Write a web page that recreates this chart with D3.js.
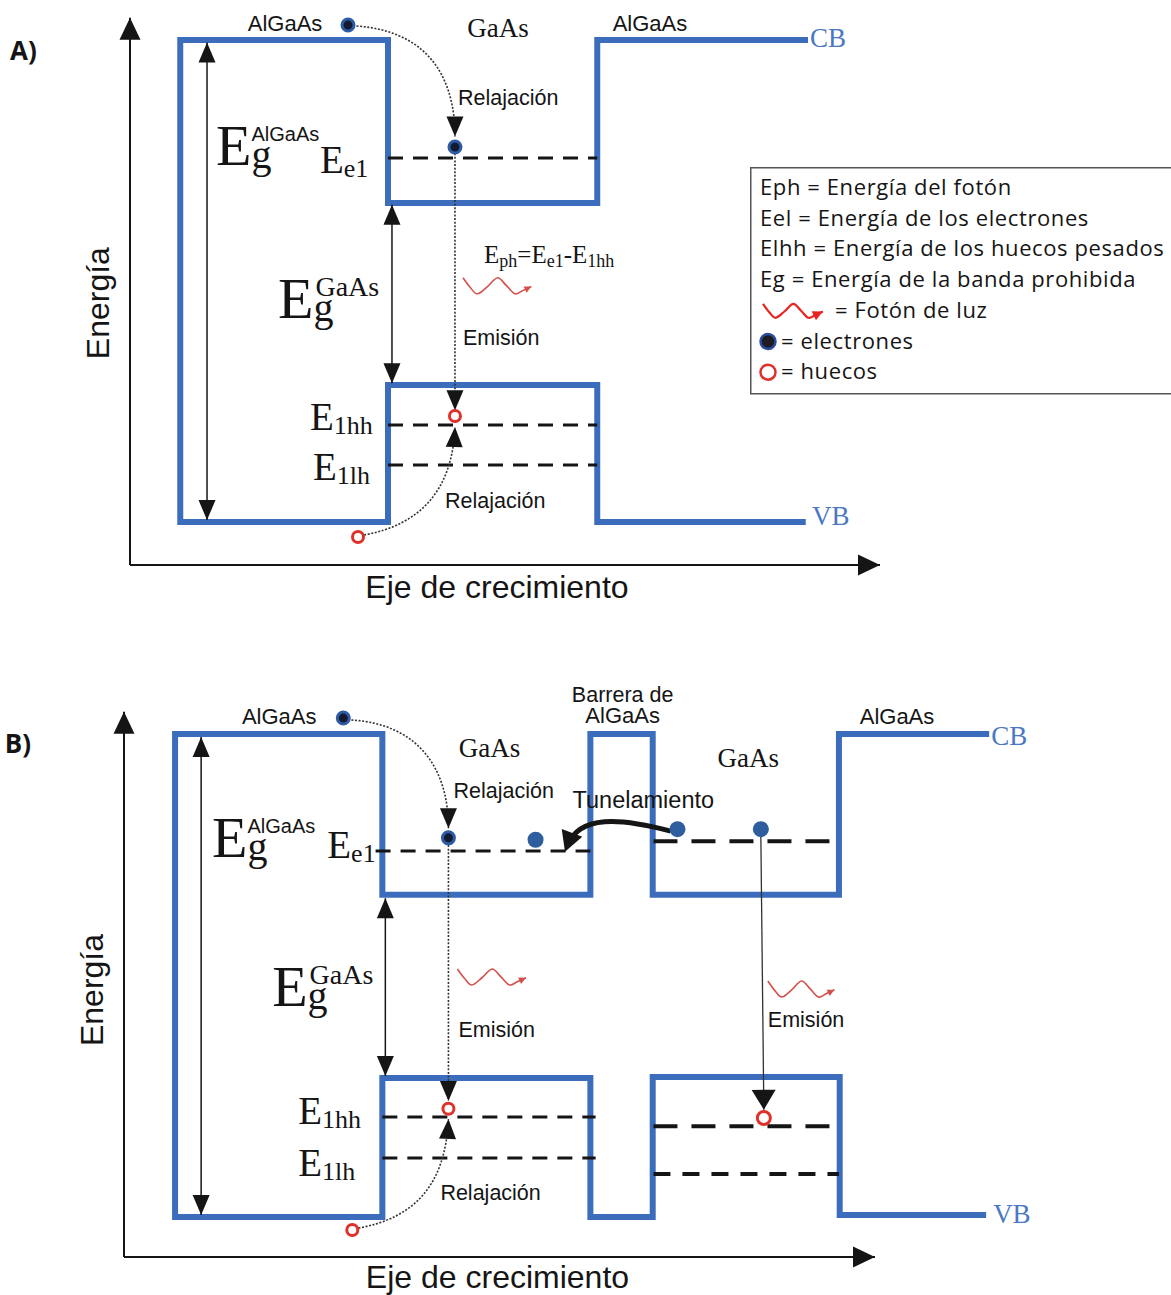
<!DOCTYPE html>
<html>
<head>
<meta charset="utf-8">
<script src="https://cdn.jsdelivr.net/npm/d3@7"></script>
<style>
  body { margin: 0; background: #fff; }
  svg { display: block; }
</style>
</head>
<body>
<div id="chart"></div>
<script>
// positions are in growth-axis units (0..100 along the arrow), energies in units of the AlGaAs gap

// ---- panel A : one GaAs well ----
var axisA = [-0.089, 1.046];
var bandPosA = [90.4, 62.3, 62.3, 34.4, 34.4, 6.7, 6.7, 34.4, 34.4, 62.3, 62.3, 90.1];
var bandEnA  = [1, 1, 0.662, 0.662, 1, 1, 0, 0, 0.284, 0.284, 0, 0];
var gapArrowsA = [[10.27, 0.004, 0.995], [34.93, 0.288, 0.658]];
var levelsA = [[0.755, 34.4, 62.3], [0.201, 34.4, 62.3], [0.118, 34.4, 62.3]];
var electronsA = [[29.07, 1.031], [43.33, 0.778]];
var holesA = [[43.33, 0.220], [30.4, -0.031]];
var relaxA = [
  [[30.2, 1.029], [38.7, 1.02], [43.33, 0.94], [43.33, 0.80]],
  [[31.2, -0.027], [38.7, -0.006], [43.0, 0.066], [43.33, 0.197]]
];
var emissionA = [[43.33, 0.765, 0.232]];
var photonsA = [[44.4, 54.0, 0.49]];
var sansLabelsA = [["AlGaAs", 20.67, 1.019, "middle"], ["AlGaAs", 69.33, 1.019, "middle"],
  ["Relajación", 43.73, 0.865, "start"], ["Emisión", 44.4, 0.367, "start"], ["Relajación", 42.0, 0.029, "start"]];
var serifLabelsA = [["GaAs", 49.07, 1.006]];
var bandNamesA = [["CB", 90.67, 0.985], ["VB", 90.93, -0.006]];
var gapLabelsA = [["AlGaAs", 11.47, 0.741], ["GaAs", 19.73, 0.423]];
var levelLabelsA = [["e1", 25.33, 0.724], ["1hh", 24.0, 0.191], ["1lh", 24.4, 0.087]];
var formulaA = [47.2, 0.537];
var titlesA = ["A)", -16.0, 0.958, -2.8, 0.454, 48.93, -0.158];

// ---- panel B : two wells and a thin barrier ----
var axisB = [-0.083, 1.046];
var bandPosB = [115.2, 95.2, 95.2, 70.4, 70.4, 62.1, 62.1, 34.4, 34.4, 6.8, 6.8, 34.4, 34.4, 62.1, 62.1, 70.4, 70.4, 95.3, 95.3, 114.8];
var bandEnB  = [1, 1, 0.667, 0.667, 1, 1, 0.667, 0.667, 1, 1, 0, 0, 0.288, 0.288, 0, 0, 0.290, 0.290, 0.004, 0.004];
var gapArrowsB = [[10.27, 0.004, 0.994], [34.8, 0.292, 0.660]];
var levelsB = [[0.758, 33.5, 62.1], [0.207, 34.4, 62.8], [0.122, 34.4, 62.8]];
var levels2B = [[0.778, 70.5, 95.2], [0.188, 70.5, 95.2], [0.089, 70.5, 95.2]];
var electronsB = [[29.2, 1.033], [43.2, 0.785]];
var driftElectronsB = [[54.8, 0.781], [73.7, 0.803], [84.8, 0.803]];
var holesB = [[43.2, 0.224], [85.2, 0.205], [30.4, -0.027]];
var relaxB = [
  [[30.27, 1.029], [38.8, 1.021], [43.2, 0.936], [43.2, 0.805]],
  [[31.2, -0.023], [38.7, -0.002], [42.8, 0.066], [43.2, 0.203]]
];
var emissionB = [[43.2, 0.770, 0.240]];
var directEmissionB = [[84.8, 0.789, 85.2, 0.222]];
var tunnelB = [[72.8, 0.799], [66.13, 0.826], [60.6, 0.834], [59.0, 0.768]];
var photonsB = [[44.4, 54.0, 0.497], [85.73, 95.07, 0.472]];
var sansLabelsB = [["AlGaAs", 20.67, 1.021, "middle"], ["Barrera de", 66.4, 1.066, "middle"], ["AlGaAs", 66.4, 1.023, "middle"],
  ["AlGaAs", 102.93, 1.021, "middle"], ["Relajación", 43.87, 0.867, "start"], ["Emisión", 44.53, 0.373, "start"],
  ["Emisión", 85.73, 0.393, "start"], ["Relajación", 42.13, 0.035, "start"]];
var serifLabelsB = [["GaAs", 48.67, 0.952], ["GaAs", 83.13, 0.932]];
var bandNamesB = [["CB", 115.47, 0.977], ["VB", 115.73, -0.012]];
var gapLabelsB = [["AlGaAs", 11.73, 0.745], ["GaAs", 19.73, 0.437]];
var levelLabelsB = [["e1", 27.07, 0.743], ["1hh", 23.2, 0.193], ["1lh", 23.2, 0.085]];
var tunnelLabelB = ["Tunelamiento", 59.73, 0.847];
var titlesB = ["B)", -15.87, 0.961, -2.8, 0.470, 49.73, -0.147];

// ---- legend ----
var legendLines = ["Eph = Energía del fotón", "Eel = Energía de los electrones",
  "Elhh = Energía de los huecos pesados", "Eg = Energía de la banda prohibida"];
var legendKeys = [["photon", "= Fotón de luz"], ["electron", "= electrones"], ["hole", "= huecos"]];

// wave shape of the photon glyph (fraction of length, fraction of amplitude)
var photonShape = [[0, -1], [0.1, 0.2], [0.2, 1], [0.34, 0.1], [0.48, -1], [0.6, -0.05], [0.72, 1], [0.83, 0.6], [0.95, 0.1]];

var SANS = '"Liberation Sans", Arial, sans-serif';
var SERIF = '"Liberation Serif", "Times New Roman", serif';
var LEG = '"Open Sans", sans-serif';
var BLUE = '#3c6dbd';
var INK = '#151515';

var svg = d3.select('#chart').append('svg').attr('width', 1171).attr('height', 1295);
var defs = svg.append('defs');

function marker(id, len, half, color, ref) {
  defs.append('marker').attr('id', id).attr('markerUnits', 'userSpaceOnUse')
    .attr('viewBox', [-len - 2, -half - 2, len + 4, 2 * half + 4].join(' '))
    .attr('markerWidth', len + 4).attr('markerHeight', 2 * half + 4)
    .attr('refX', ref || 0).attr('refY', 0).attr('orient', 'auto-start-reverse')
    .append('path').attr('d', 'M0,0L' + (-len) + ',' + (-half) + 'L' + (-len) + ',' + half + 'Z').attr('fill', color);
}
marker('head', 20, 8.5, INK);
marker('axisHead', 22, 10.5, INK);
marker('bigHead', 20, 12, INK);
marker('tunnelHead', 20, 11, INK, -6);
marker('photonHead', 7, 3.5, '#d4504c');
marker('legPhotonHead', 10, 5, '#e8231f');

function photon(g, x0, x1, cy, amp, color, width, head) {
  var ln = d3.line().x(d => x0 + d[0] * (x1 - x0)).y(d => cy + d[1] * amp).curve(d3.curveCardinal);
  g.append('path').attr('d', ln(photonShape)).attr('fill', 'none').attr('stroke', color)
    .attr('stroke-width', width).attr('marker-end', 'url(#' + head + ')');
}

function bez(pts, x, y) {
  var p = d3.path();
  p.moveTo(x(pts[0][0]), y(pts[0][1]));
  p.bezierCurveTo(x(pts[1][0]), y(pts[1][1]), x(pts[2][0]), y(pts[2][1]), x(pts[3][0]), y(pts[3][1]));
  return p.toString();
}

function txt(g, s, px, py, font, size, anchor) {
  return g.append('text').attr('x', px).attr('y', py).attr('font-family', font)
    .attr('font-size', size).attr('text-anchor', anchor || 'start').attr('fill', INK).text(s);
}

function drawPanel(p) {
  var x = p.x, y = p.y, g = svg.append('g');
  var ln = d3.line().x(d => x(d[0])).y(d => y(d[1]));

  // axes
  g.append('path').attr('d', ln([[0, p.axis[0]], [0, p.axis[1]]])).attr('stroke', INK).attr('stroke-width', 2)
    .attr('marker-end', 'url(#axisHead)');
  g.append('path').attr('d', ln([[0, p.axis[0]], [100, p.axis[0]]])).attr('stroke', INK).attr('stroke-width', 2)
    .attr('marker-end', 'url(#axisHead)');

  // band edges
  g.append('path').attr('d', ln(d3.zip(p.bandPos, p.bandEn))).attr('fill', 'none')
    .attr('stroke', BLUE).attr('stroke-width', 6).attr('stroke-linejoin', 'miter');

  // confined levels
  g.selectAll(null).data(p.levels).join('line')
    .attr('x1', d => x(d[1])).attr('x2', d => x(d[2])).attr('y1', d => y(d[0])).attr('y2', d => y(d[0]))
    .attr('stroke', INK).attr('stroke-width', 3).attr('stroke-dasharray', '15,10');

  // band-gap arrows
  g.selectAll(null).data(p.gapArrows).join('line')
    .attr('x1', d => x(d[0])).attr('x2', d => x(d[0])).attr('y1', d => y(d[1])).attr('y2', d => y(d[2]))
    .attr('stroke', INK).attr('stroke-width', 1.5)
    .attr('marker-start', 'url(#head)').attr('marker-end', 'url(#head)');

  // relaxation paths and emission
  g.selectAll(null).data(p.relax).join('path').attr('d', d => bez(d, x, y)).attr('fill', 'none')
    .attr('stroke', '#333').attr('stroke-width', 1.6).attr('stroke-dasharray', '2,1.6')
    .attr('marker-end', 'url(#head)');
  g.selectAll(null).data(p.emission).join('line')
    .attr('x1', d => x(d[0])).attr('x2', d => x(d[0])).attr('y1', d => y(d[1])).attr('y2', d => y(d[2]))
    .attr('stroke', '#333').attr('stroke-width', 1.6).attr('stroke-dasharray', '2,1.6')
    .attr('marker-end', 'url(#head)');

  p.photons.forEach(d => photon(g, x(d[0]), x(d[1]), y(d[2]), 8, '#d4504c', 1.6, 'photonHead'));

  // carriers
  g.selectAll(null).data(p.electrons).join('circle')
    .attr('cx', d => x(d[0])).attr('cy', d => y(d[1])).attr('r', 6)
    .attr('fill', '#141a30').attr('stroke', '#2d5ca6').attr('stroke-width', 3);
  g.selectAll(null).data(p.holes).join('circle')
    .attr('cx', d => x(d[0])).attr('cy', d => y(d[1])).attr('r', 5.5)
    .attr('fill', '#fff').attr('stroke', '#e0302a').attr('stroke-width', 3);

  // texts
  p.sansLabels.forEach(d => txt(g, d[0], x(d[1]), y(d[2]), SANS, d[0] === 'AlGaAs' ? 22 : 21.5, d[3]));
  p.serifLabels.forEach(d => txt(g, d[0], x(d[1]), y(d[2]), SERIF, 27, 'middle'));
  p.bandNames.forEach(d => txt(g, d[0], x(d[1]), y(d[2]), SERIF, 27).attr('fill', '#4a78c2'));

  p.gapLabels.forEach(function (d) {
    var px = x(d[1]), py = y(d[2]);
    var e = txt(g, 'E', px, py, SERIF, 58);
    var w = e.node().getComputedTextLength();
    txt(g, 'g', px + w, py + 3, SERIF, 40);
    if (d[0] === 'AlGaAs') txt(g, d[0], px + w, py - 24, SANS, 20);
    else txt(g, d[0], px + w + 2, py - 22, SERIF, 28);
  });

  p.levelLabels.forEach(function (d) {
    var t = txt(g, 'E', x(d[1]), y(d[2]), SERIF, 39);
    t.append('tspan').attr('font-size', 26).attr('dy', 4).text(d[0]);
  });

  var tt = p.titles;
  txt(g, tt[0], x(tt[1]), y(tt[2]), LEG, 26).attr('font-weight', 700);
  txt(g, 'Energía', 0, 0, SANS, 32, 'middle')
    .attr('transform', 'translate(' + x(tt[3]) + ',' + y(tt[4]) + ') rotate(-90)');
  txt(g, 'Eje de crecimiento', x(tt[5]), y(tt[6]), SANS, 32, 'middle');
  return g;
}

var xA = d3.scaleLinear().domain([0, 100]).range([130, 880]);
var yA = d3.scaleLinear().domain([0, 1]).range([522, 40]);
var gA = drawPanel({x: xA, y: yA, axis: axisA, bandPos: bandPosA, bandEn: bandEnA, levels: levelsA,
  gapArrows: gapArrowsA, relax: relaxA, emission: emissionA, photons: photonsA, electrons: electronsA,
  holes: holesA, sansLabels: sansLabelsA, serifLabels: serifLabelsA, bandNames: bandNamesA,
  gapLabels: gapLabelsA, levelLabels: levelLabelsA, titles: titlesA});

// photon energy formula
var f = txt(gA, 'E', xA(formulaA[0]), yA(formulaA[1]), SERIF, 25);
[['ph', 1], ['=E', 0], ['e1', 1], ['-E', 0], ['1hh', 1]].forEach(function (s) {
  f.append('tspan').attr('font-size', s[1] ? 18 : 25).attr('dy', s[1] ? 4 : -4).text(s[0]);
});

var xB = d3.scaleLinear().domain([0, 100]).range([124, 875]);
var yB = d3.scaleLinear().domain([0, 1]).range([1217, 734]);
var gB = drawPanel({x: xB, y: yB, axis: axisB, bandPos: bandPosB, bandEn: bandEnB, levels: levelsB,
  gapArrows: gapArrowsB, relax: relaxB, emission: emissionB, photons: photonsB, electrons: electronsB,
  holes: holesB, sansLabels: sansLabelsB, serifLabels: serifLabelsB, bandNames: bandNamesB,
  gapLabels: gapLabelsB, levelLabels: levelLabelsB, titles: titlesB});

// second well levels (drawn heavier)
gB.selectAll(null).data(levels2B).join('line')
  .attr('x1', d => xB(d[1])).attr('x2', d => xB(d[2])).attr('y1', d => yB(d[0])).attr('y2', d => yB(d[0]))
  .attr('stroke', INK).attr('stroke-width', 4).attr('stroke-dasharray', (d, i) => i === 2 ? '17,12' : '24,14');

// tunnelling
gB.append('path').attr('d', bez(tunnelB, xB, yB)).attr('fill', 'none').attr('stroke', INK)
  .attr('stroke-width', 5).attr('marker-end', 'url(#tunnelHead)');
txt(gB, tunnelLabelB[0], xB(tunnelLabelB[1]), yB(tunnelLabelB[2]), SANS, 23.5);

// direct emission in the second well
gB.selectAll(null).data(directEmissionB).join('line')
  .attr('x1', d => xB(d[0])).attr('y1', d => yB(d[1])).attr('x2', d => xB(d[2])).attr('y2', d => yB(d[3]))
  .attr('stroke', '#333').attr('stroke-width', 1.3).attr('marker-end', 'url(#bigHead)');

gB.selectAll(null).data(driftElectronsB).join('circle')
  .attr('cx', d => xB(d[0])).attr('cy', d => yB(d[1])).attr('r', 8).attr('fill', '#2f5e9e');
gB.selectAll('circle.h2').data(holesB.slice(1, 2)).join('circle')
  .attr('cx', d => xB(d[0])).attr('cy', d => yB(d[1])).attr('r', 6.5)
  .attr('fill', '#fff').attr('stroke', '#e0302a').attr('stroke-width', 3);

// legend
var lg = svg.append('g').attr('transform', 'translate(750,167)');
lg.append('rect').attr('x', 0.75).attr('y', 0.75).attr('width', 430).attr('height', 226)
  .attr('fill', '#fff').attr('stroke', '#555').attr('stroke-width', 1.5);
legendLines.forEach(function (s, i) {
  txt(lg, s, 10, 28 + i * 30.7, LEG, 22).attr('letter-spacing', 0.6);
});
legendKeys.forEach(function (k, i) {
  var yy = 28 + (i + 4) * 30.7;
  if (k[0] === 'photon') {
    photon(lg, 13, 76, yy - 7, 7, '#e8231f', 2.2, 'legPhotonHead');
    txt(lg, k[1], 85, yy, LEG, 22).attr('letter-spacing', 0.6);
  } else {
    lg.append('circle').attr('cx', 18).attr('cy', yy - 7).attr('r', 7.5)
      .attr('fill', k[0] === 'electron' ? '#1c1c22' : '#fff')
      .attr('stroke', k[0] === 'electron' ? '#2a4d9e' : '#e0302a').attr('stroke-width', 2.5);
    txt(lg, k[1], 31, yy, LEG, 22).attr('letter-spacing', 0.6);
  }
});
</script>
</body>
</html>
